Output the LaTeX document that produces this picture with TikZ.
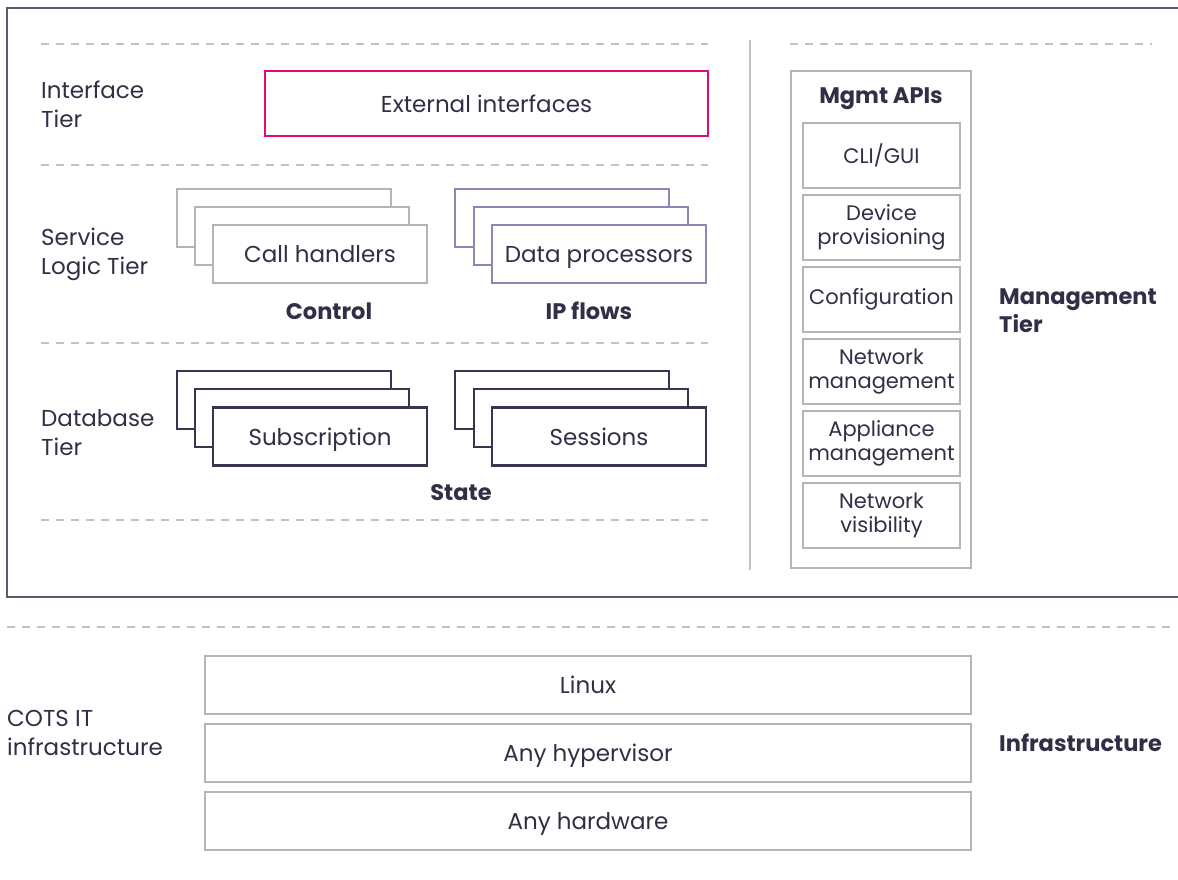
\documentclass[tikz,border=0pt]{standalone}
\usepackage{fontspec}
\setmainfont{Poppins}
\definecolor{ink}{HTML}{332E45}
\definecolor{lgray}{HTML}{B5B5B5}
\definecolor{dgray}{HTML}{C2C2C2}
\definecolor{mag}{HTML}{E5097F}
\definecolor{purp}{HTML}{8B86B3}
\definecolor{dark}{HTML}{3A3450}
\definecolor{frame}{HTML}{5E5A6E}
\begin{document}
\begin{tikzpicture}[x=1pt,y=-1pt,
  every node/.style={text=ink, font=\fontsize{23}{29}\selectfont},
  lbl/.style={align=left, anchor=west, inner sep=0pt},
  bold/.style={font=\fontsize{22.5}{28}\selectfont\bfseries},
  tb/.style={text height=17pt, text depth=0pt},
  dline/.style={dgray, line width=1.3pt, dash pattern=on 8pt off 7pt},
  grayb/.style={draw=lgray, line width=2pt, fill=white},
  purpb/.style={draw=purp, line width=2.2pt, fill=white},
  darkb/.style={draw=dark, line width=2.2pt, fill=white},
  small/.style={font=\fontsize{21}{24}\selectfont, align=center}]
\useasboundingbox (0,0) rectangle (1178,879);
% outer frame
\draw[frame, line width=1.3pt] (1190,8) -- (7,8) -- (7,597) -- (1190,597);
% dashed tier lines
\coordinate (d1a) at (41,44); \coordinate (d1b) at (708,44);
\coordinate (d2a) at (41,165); \coordinate (d2b) at (708,165);
\coordinate (d3a) at (41,343); \coordinate (d3b) at (708,343);
\coordinate (d4a) at (41,520); \coordinate (d4b) at (708,520);
\coordinate (d5a) at (790,44); \coordinate (d5b) at (1152,44);
\coordinate (d6a) at (7,627); \coordinate (d6b) at (1172,627);
\foreach \p in {1,...,6} \draw[dline] (d\p a) -- (d\p b);
% vertical separator
\coordinate (va) at (750,40); \coordinate (vb) at (750,570);
\draw[dgray, line width=1.3pt] (va) -- (vb);
% tier labels
\node[lbl] (t1) at (41,104) {Interface\\Tier};
\node[lbl] (t2) at (41,254) {Service\\Logic Tier};
\node[lbl] (t3) at (41,433) {Database\\Tier};
\node[lbl] (t4) at (7,733) {COTS IT\\infrastructure};
% external interfaces
\node[tb, draw=mag, line width=2.2pt, minimum width=443pt, minimum height=65pt] (ext) at (486.5,103.5) {External interfaces};
% call handlers stack
\node[grayb, minimum width=214pt, minimum height=58pt] (ch3) at (284,218) {};
\node[grayb, minimum width=214pt, minimum height=58pt] (ch2) at (302,236) {};
\node[tb, grayb, minimum width=214pt, minimum height=58pt] (ch1) at (320,254) {Call handlers};
\node[bold] (ctrl) at (329,311) {Control};
% data processors stack
\node[purpb, minimum width=214pt, minimum height=58pt] (dp3) at (562,218) {};
\node[purpb, minimum width=214pt, minimum height=58pt] (dp2) at (581,236) {};
\node[tb, purpb, minimum width=214pt, minimum height=58pt] (dp1) at (599,254) {Data processors};
\node[bold] (ipf) at (589,311) {IP flows};
% subscription stack
\node[darkb, minimum width=214pt, minimum height=58pt] (sb3) at (284,400) {};
\node[darkb, minimum width=214pt, minimum height=58pt] (sb2) at (302,418) {};
\node[tb, darkb, minimum width=214pt, minimum height=58pt] (sb1) at (320,436.5) {Subscription};
% sessions stack
\node[darkb, minimum width=214pt, minimum height=58pt] (ss3) at (562,400) {};
\node[darkb, minimum width=214pt, minimum height=58pt] (ss2) at (581,418) {};
\node[tb, darkb, minimum width=214pt, minimum height=58pt] (ss1) at (599,436.5) {Sessions};
\node[bold] (state) at (461,493) {State};
% management column
\node[grayb, minimum width=180pt, minimum height=497pt] (mg) at (881,319.5) {};
\node[bold] (mgt) at (881,99) {Mgmt APIs};
\foreach \n/\y/\t in {a/155.5/{CLI/GUI}, b/227.5/{Device\\provisioning}, c/299.5/{Configuration}, d/371.5/{Network\\management}, e/443.5/{Appliance\\management}, f/515.5/{Network\\visibility}}
  \node[grayb, small, minimum width=157pt, minimum height=65pt, inner sep=0pt] (m\n) at (881.5,\y) {\t};
\node[lbl, bold, align=left] (mtier) at (999,311) {Management\\Tier};
% infrastructure
\node[tb, grayb, minimum width=766pt, minimum height=58pt] (lin) at (588,685) {Linux};
\node[tb, grayb, minimum width=766pt, minimum height=58pt] (hyp) at (588,753) {Any hypervisor};
\node[tb, grayb, minimum width=766pt, minimum height=58pt] (hw) at (588,821) {Any hardware};
\node[lbl, bold] (inf) at (999,743) {Infrastructure};
\end{tikzpicture}
\end{document}
